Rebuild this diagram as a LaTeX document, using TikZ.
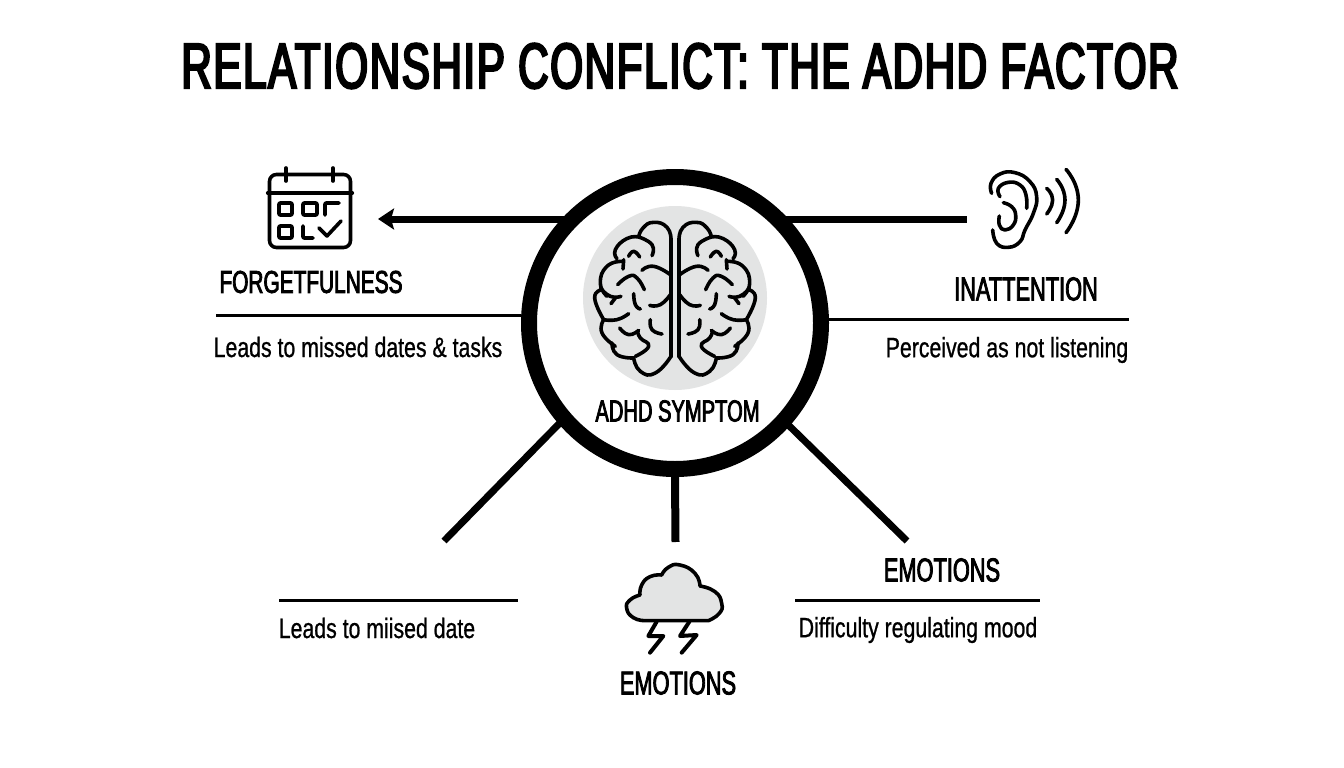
\documentclass[tikz,border=0pt]{standalone}
\usepackage{fontspec}
\usepackage{tikz}
\usetikzlibrary{arrows.meta,positioning}
\newfontfamily\titlefont[FakeStretch=0.66,FakeBold=3.5,LetterSpace=2.4]{Liberation Sans}
\newfontfamily\headfont[FakeStretch=0.66,FakeBold=2.5]{Liberation Sans}
\newfontfamily\subfont[FakeStretch=0.76,FakeBold=0.8]{Liberation Sans}
\definecolor{softgrey}{HTML}{E3E4E4}

\begin{document}
\begin{tikzpicture}[x=1pt,y=-1pt,
        head/.style = {font=\headfont\fontsize{33}{36}\selectfont, inner sep=0pt},
        sub/.style = {font=\subfont\fontsize{28}{32}\selectfont, inner sep=0pt},
        hub/.style = {draw, circle, line width=16pt, minimum size=292pt, inner sep=0pt, fill=white},
        thick line/.style = {line width=7pt, shorten <=-4pt},
        rule/.style = {line width=3pt},
        icon/.style = {line width=3.6pt, line cap=round, line join=round},
        brainside/.pic = {
            \draw[icon] (-12,175) -- (-12,-175);
            \draw[icon] plot[smooth, tension=0.9] coordinates {(-12,-175) (-24,-212) (-64,-227) (-96,-210) (-109,-183)};
            \draw[icon] plot[smooth, tension=0.9] coordinates {(-109,-183) (-145,-178) (-179,-145) (-174,-118)};
            \draw[icon] plot[smooth, tension=0.9] coordinates {(-159,-110) (-204,-95) (-224,-45) (-204,-5)};
            \draw[icon] plot[smooth, tension=0.9] coordinates {(-219,-25) (-241,0) (-214,65)};
            \draw[icon] plot[smooth, tension=0.9] coordinates {(-214,65) (-219,105) (-179,145)};
            \draw[icon] plot[smooth, tension=0.9] coordinates {(-189,135) (-174,170) (-124,180)};
            \draw[icon] plot[smooth, tension=0.9] coordinates {(-124,180) (-104,220) (-59,225) (-12,175)};
            \draw[icon] plot[smooth, tension=0.9] coordinates {(-109,-183) (-69,-160) (-69,-127)};
            \draw[icon] plot[smooth, tension=0.9] coordinates {(-139,-125) (-124,-140) (-106,-123)};
            \draw[icon] (-154,-115) -- (-156,-87);
            \draw[icon] plot[smooth, tension=0.9] coordinates {(-99,-83) (-64,-95) (-14,-70)};
            \draw[icon] plot[smooth, tension=0.9] coordinates {(-172,-40) (-139,-65) (-114,-60) (-92,-25)};
            \draw[icon] plot[smooth, tension=0.9] coordinates {(-224,-30) (-194,-5) (-162,-5)};
            \draw[icon] (-192,17) -- (-179,0);
            \draw[icon] plot[smooth, tension=0.9] coordinates {(-124,-13) (-119,20) (-104,33)};
            \draw[icon] plot[smooth, tension=0.9] coordinates {(-76,22) (-44,20) (-14,-10)};
            \draw[icon] plot[smooth, tension=0.9] coordinates {(-214,65) (-174,65) (-139,47)};
            \draw[icon] plot[smooth, tension=0.9] coordinates {(-166,90) (-139,110) (-109,97)};
            \draw[icon] plot[smooth, tension=0.9] coordinates {(-112,100) (-104,120) (-79,145) (-119,175)};
            \draw[icon] plot[smooth, tension=0.9] coordinates {(-74,65) (-69,95) (-39,108)};
        }]
        \useasboundingbox (0,0) rectangle (1344,768);

        % title
        \node[font=\titlefont\fontsize{64}{70}\selectfont, inner sep=0pt] (title) at (680,66) {RELATIONSHIP CONFLICT: THE ADHD FACTOR};

        % centre
        \node[hub] (centre) at (675,323) {};
        \node[circle, fill=softgrey, minimum size=184pt, inner sep=0pt] (disc) at (675,298) {};
        \pic[scale=1/3] at (675,298) {brainside};
        \pic[scale=1/3, xscale=-1] at (675,298) {brainside};
        \node[head, font=\headfont\fontsize{30.5}{33}\selectfont] (symptom) at (677.5,411) {ADHD SYMPTOM};

        % free ends
        \coordinate (tipforget) at (378,219);
        \coordinate (endear) at (967,219);
        \coordinate (endlow) at (444,541);
        \coordinate (endstorm) at (675.5,542);
        \coordinate (endright) at (907,541);
        \coordinate (ruleforget) at (216,315);
        \coordinate (ruleear) at (1129,319);
        \coordinate (rulelowa) at (279,600);
        \coordinate (rulelowb) at (518,600);
        \coordinate (rulerighta) at (795,600);
        \coordinate (rulerightb) at (1040,600);

        % connectors
        \draw[thick line, -{Stealth[length=16pt,width=21pt,inset=3pt]}] (centre.137.8 |- tipforget) -- (tipforget);
        \draw[thick line] (centre.42.2 |- endear) -- (endear);
        \draw[thick line] (centre.221) -- (endlow);
        \draw[thick line, line width=8pt] (centre.270) -- (endstorm);
        \draw[thick line] (centre.318.4) -- (endright);
        \draw[rule] (ruleforget) -- (centre.west |- ruleforget);
        \draw[rule] (centre.east |- ruleear) -- (ruleear);
        \draw[rule] (rulelowa) -- (rulelowb);
        \draw[rule] (rulerighta) -- (rulerightb);

        % calendar
        \node[draw, icon, rounded corners=7pt, minimum width=81pt, minimum height=73pt, inner sep=0pt] (calendar) at (310,211) {};
        \draw[icon] (calendar.west |- 0,193) -- (calendar.east |- 0,193);
        \draw[icon] (286,168) -- (286,181);
        \draw[icon] (333,168) -- (333,181);
        \draw[icon, rounded corners=1pt] (279,203) rectangle (292,215);
        \draw[icon, rounded corners=1pt] (303,203) rectangle (317,215);
        \draw[icon, rounded corners=1pt] (325,215) -- (325,203) -- (339,203);
        \draw[icon, rounded corners=1pt] (279,226) rectangle (292,238);
        \draw[icon, rounded corners=1pt] (303,226) -- (303,238) -- (313,238);
        \draw[icon] (319,228) -- (327,236) -- (341,221);

        % ear
        \begin{scope}[shift={(860,150)}, scale=1/3]
            \draw[icon] plot[smooth, tension=0.8] coordinates {(395,130) (393,100) (420,72) (465,68) (510,95) (530,140) (520,190) (495,240) (480,275) (445,292) (410,280) (398,240)};
            \draw[icon] plot[smooth, tension=0.8] coordinates {(420,140) (415,115) (445,97) (480,105) (498,135) (500,175)};
            \draw[icon] plot[smooth, tension=0.8] coordinates {(430,158) (455,170) (467,195) (460,225) (435,240) (418,225) (418,198)};
            \draw[icon] plot[smooth, tension=1] coordinates {(560,115) (578,150) (560,192)};
            \draw[icon] plot[smooth, tension=1] coordinates {(590,88) (615,150) (590,218)};
            \draw[icon] plot[smooth, tension=1] coordinates {(618,58) (655,150) (618,248)};
        \end{scope}

        % storm
        \begin{scope}[shift={(600,550)}, scale=1/3]
            \draw[icon, fill=softgrey] (135,212) -- (325,212)
                -- plot[smooth, tension=0.9] coordinates {(325,212) (358,190) (365,160) (345,125) (300,108)}
                -- plot[smooth, tension=0.9] coordinates {(300,108) (285,70) (240,45) (205,52) (185,75)}
                -- plot[smooth, tension=0.9] coordinates {(185,75) (150,80) (125,105) (120,135)}
                -- plot[smooth, tension=0.9] coordinates {(120,135) (90,150) (80,175) (100,203) (135,212)} -- cycle;
            \draw[icon, line width=4pt] (170,215) -- (145,258) -- (190,258) -- (150,308);
            \draw[icon, line width=4pt] (268,215) -- (240,258) -- (290,255) -- (245,308);
        \end{scope}

        % labels
        \node[head, font=\headfont\fontsize{31.6}{36}\selectfont] (forget) at (311,282) {FORGETFULNESS};
        \node[sub] (forgetsub) at (358,347) {Leads to missed dates \& tasks};
        \node[head] (inatt) at (1026,289) {INATTENTION};
        \node[sub] (inattsub) at (1007,350) {Perceived as not listening};
        \node[head] (emoright) at (942,570) {EMOTIONS};
        \node[sub] (emorightsub) at (918,630) {Difficulty regulating mood};
        \node[sub] (lowsub) at (377,628) {Leads to miised date};
        \node[head] (emostorm) at (678,683) {EMOTIONS};
\end{tikzpicture}
\end{document}
